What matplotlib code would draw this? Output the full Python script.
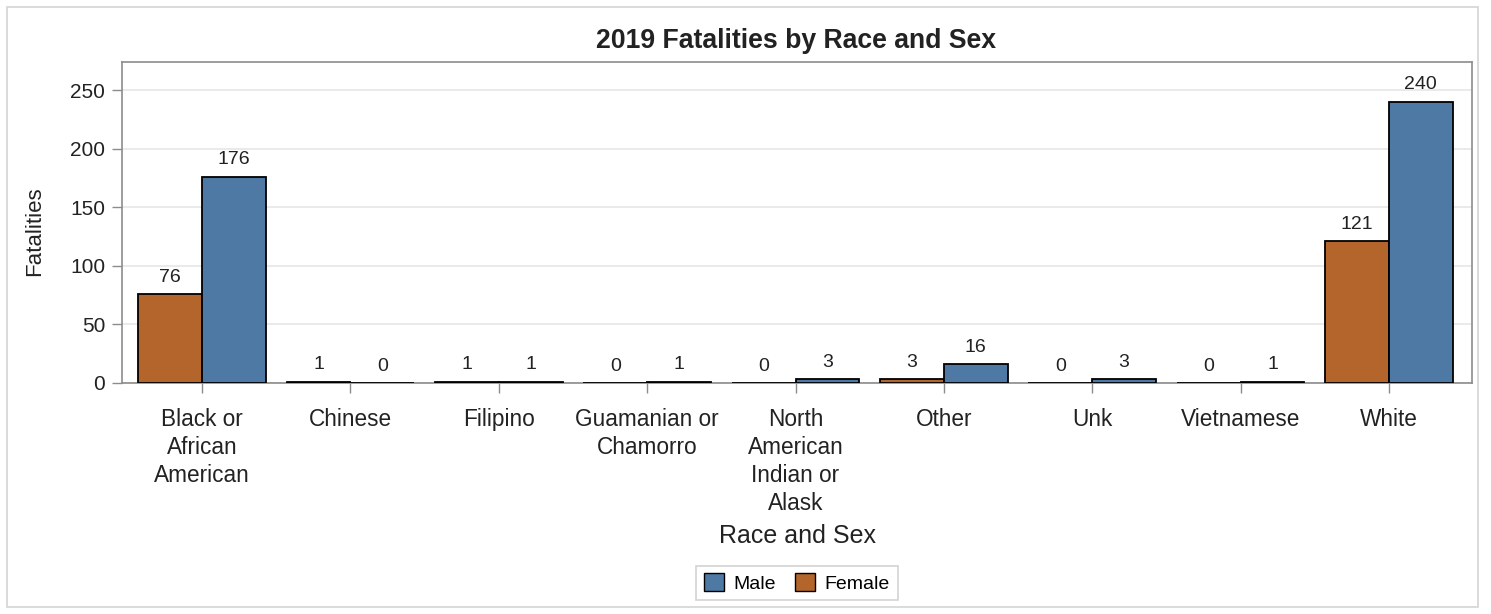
import matplotlib
matplotlib.use('Agg')
import matplotlib.pyplot as plt
import matplotlib.patches as mpatches
import numpy as np

# Fatalities by race, split by sex
categories = ['Black or\nAfrican\nAmerican', 'Chinese', 'Filipino',
              'Guamanian or\nChamorro', 'North\nAmerican\nIndian or\nAlask',
              'Other', 'Unk', 'Vietnamese', 'White']
female = [76, 1, 1, 0, 0, 3, 0, 0, 121]
male = [176, 0, 1, 1, 3, 16, 3, 1, 240]
y_ticks = [0, 50, 100, 150, 200, 250]

MALE_COLOR = '#4d79a4'
FEMALE_COLOR = '#b3652b'
TEXT = '#222222'
FRAME = '#8c8c8c'

plt.rcParams['font.family'] = ['Liberation Sans', 'DejaVu Sans']

W, H = 1491, 614
fig = plt.figure(figsize=(W / 100, H / 100), dpi=100, facecolor='white')

# outer border of the graph
fig.patches.append(mpatches.Rectangle((7 / W, 1 - 607 / H), 1471 / W, 600 / H,
                                      transform=fig.transFigure, fill=False,
                                      edgecolor='#d4d4d4', linewidth=1.2))

ax = fig.add_axes([122 / W, 1 - 383 / H, 1350 / W, 321 / H])

x = np.arange(len(categories))
bw = 0.43
bars_f = ax.bar(x - bw / 2, female, bw, color=FEMALE_COLOR, edgecolor='black',
                linewidth=1.3, label='Female', zorder=3)
bars_m = ax.bar(x + bw / 2, male, bw, color=MALE_COLOR, edgecolor='black',
                linewidth=1.3, label='Male', zorder=3)

for bars, vals in ((bars_f, female), (bars_m, male)):
    for b, v in zip(bars, vals):
        ax.annotate(str(v), (b.get_x() + b.get_width() / 2, v),
                    xytext=(0, 6), textcoords='offset points',
                    ha='center', va='bottom', fontsize=14, color=TEXT)

ax.set_xlim(-0.54, len(categories) - 0.44)
ax.set_ylim(0, 274)
ax.set_yticks(y_ticks)
ax.set_xticks(x)
ax.set_xticklabels(categories, fontsize=16.3, color=TEXT, linespacing=1.27)
ax.tick_params(axis='y', labelsize=15, colors=TEXT, length=7, width=1, pad=5)
ax.tick_params(axis='x', length=7, width=1, pad=11)
ax.tick_params(color=FRAME)
ax.grid(axis='y', color='#e6e6e6', linewidth=1.2, zorder=0)
ax.set_axisbelow(True)
for s in ax.spines.values():
    s.set_color(FRAME)
    s.set_linewidth(1.2)

ax.set_ylabel('Fatalities', fontsize=16, color=TEXT,
              family=['Liberation Sans Narrow', 'Liberation Sans'])
ax.yaxis.set_label_coords(-0.057, 0.4735)
ax.set_xlabel('Race and Sex', fontsize=18, color=TEXT)
ax.xaxis.set_label_coords(0.5, -0.477)
ax.xaxis.label.set_va('center')

fig.text(796 / W, 1 - 41 / H, '2019 Fatalities by Race and Sex',
         ha='center', va='center', fontsize=19.2, fontweight='bold', color=TEXT)

handles = [mpatches.Patch(facecolor=MALE_COLOR, edgecolor='black', label='Male'),
           mpatches.Patch(facecolor=FEMALE_COLOR, edgecolor='black', label='Female')]
leg = fig.legend(handles=handles, loc='center', ncol=2,
                 bbox_to_anchor=(797 / W, 1 - 583 / H), fontsize=14,
                 frameon=True, fancybox=False, handlelength=1.0,
                 handleheight=1.0, handletextpad=0.5, columnspacing=1.0,
                 borderpad=0.4)
leg.get_frame().set_edgecolor('#c8c8c8')
leg.get_frame().set_linewidth(1.2)

fig.savefig('out.png', dpi=100, facecolor='white')
